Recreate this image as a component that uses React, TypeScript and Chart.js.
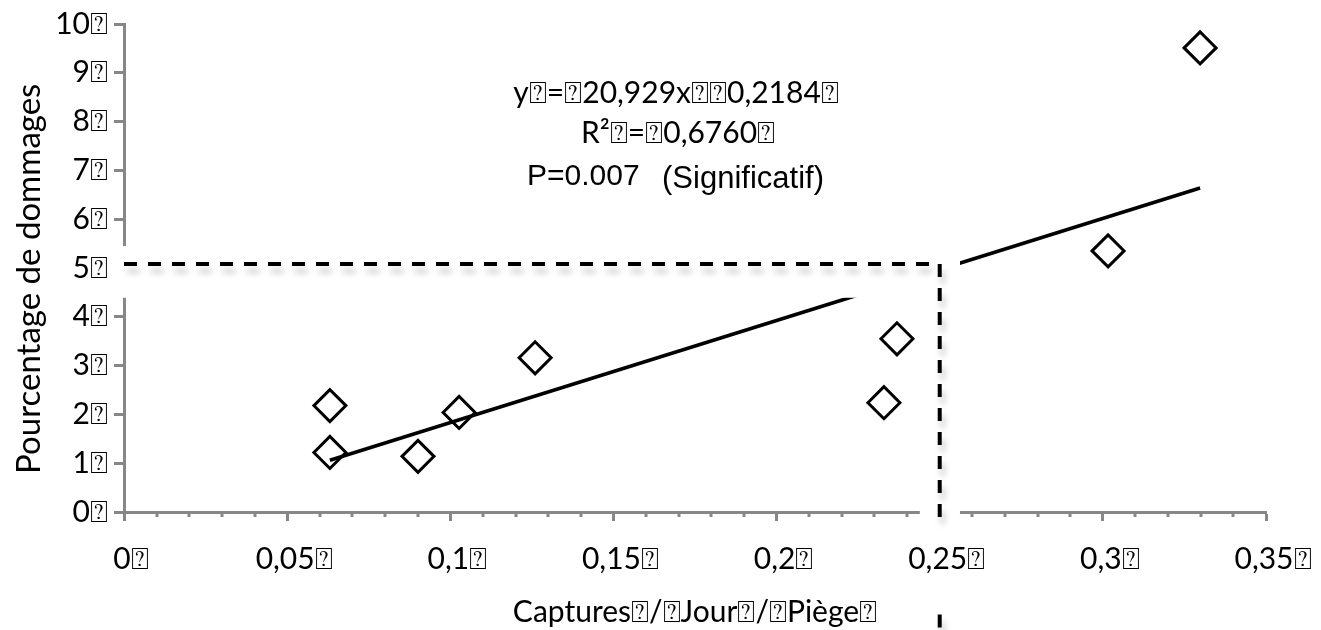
import React, { useEffect, useRef } from "react";
import { Chart, registerables } from "chart.js";

Chart.register(...registerables);

// Missing-glyph box that appears after every label in the reference
const BOX = "\u2370";

// Observations: captures / day / trap vs. damage percentage
const captureX = [0.0631, 0.0631, 0.0901, 0.1027, 0.126, 0.2329, 0.2369, 0.3016, 0.3298];
const damageY = [2.18, 1.22, 1.14, 2.04, 3.16, 2.24, 3.55, 5.35, 9.51];

// Drawn trend line end points
const trendX = [0.0631, 0.3298];
const trendY = [1.06, 6.64];

// Reference (threshold) dashed lines
const refX = 0.25;
const refY = 5.08;
const refVertBreaks = [-0.3, -2.1]; // gap where the x label sits
const refVertEnd = -2.45;

// Tick labels
const xTickLabels = ["0", "0,05", "0,1", "0,15", "0,2", "0,25", "0,3", "0,35"];
const yTickLabels = ["0", "1", "2", "3", "4", "5", "6", "7", "8", "9", "10"];

// Text
const yTitle = "Pourcentage de dommages";
const xTitle = `Captures${BOX}/${BOX}Jour${BOX}/${BOX}Piège${BOX}`;
const eqText = `y${BOX}=${BOX}20,929x${BOX}${BOX}0,2184${BOX}`;
const r2Text = `R²${BOX}=${BOX}0,6760${BOX}`;
const pText = "P=0.007";
const sigText = "(Significatif)";

const CAL = "Lato, 'Open Sans', sans-serif";
const ARIAL = "'Liberation Sans', Arial, sans-serif";
const AXIS_GRAY = "#878787";

export default function App() {
  const canvasRef = useRef<HTMLCanvasElement | null>(null);

  useEffect(() => {
    const canvas = canvasRef.current;
    if (!canvas) return;

    const overlay = {
      id: "overlay",
      beforeDatasetsDraw(chart: any) {
        // minor ticks on x axis every 0.01
        const ctx = chart.ctx;
        const xs = chart.scales.x;
        const yBase = chart.chartArea.bottom;
        ctx.save();
        ctx.strokeStyle = AXIS_GRAY;
        ctx.lineWidth = 3;
        for (let i = 1; i < 35; i++) {
          if (i % 5 === 0) continue;
          const px = Math.round(xs.getPixelForValue(i / 100));
          ctx.beginPath();
          ctx.moveTo(px, yBase);
          ctx.lineTo(px, yBase + 5);
          ctx.stroke();
        }
        ctx.restore();
      },
      beforeDatasetDraw(chart: any, args: any) {
        const ctx = chart.ctx;
        const xs = chart.scales.x;
        const ys = chart.scales.y;
        if (args.index === 1) {
          // white pasted band around the threshold corner
          ctx.save();
          ctx.fillStyle = "#ffffff";
          const x0 = xs.getPixelForValue(-0.0037);
          const x1 = xs.getPixelForValue(refX + 0.0062);
          const xv = xs.getPixelForValue(refX - 0.0061);
          const yTop = ys.getPixelForValue(refY + 0.37);
          const yBot = ys.getPixelForValue(refY - 0.69);
          const yLow = ys.getPixelForValue(-0.67);
          ctx.fillRect(x0, yTop, x1 - x0, yBot - yTop);
          ctx.fillRect(xv, yTop, x1 - xv, yLow - yTop);
          ctx.restore();
        }
        if (args.index <= 1) {
          ctx.save();
          ctx.shadowColor = "rgba(0,0,0,0.22)";
          ctx.shadowBlur = 6;
          ctx.shadowOffsetX = 3;
          ctx.shadowOffsetY = 7;
        }
      },
      afterDatasetDraw(chart: any, args: any) {
        if (args.index <= 1) chart.ctx.restore();
      },
      afterDraw(chart: any) {
        const ctx = chart.ctx;
        const xs = chart.scales.x;
        const ys = chart.scales.y;
        ctx.save();
        ctx.fillStyle = "#000";
        ctx.textBaseline = "middle";
        ctx.textAlign = "center";
        // y axis title
        ctx.save();
        ctx.translate(29, ys.getPixelForValue(4.78));
        ctx.rotate(-Math.PI / 2);
        ctx.font = `33px ${CAL}`;
        ctx.fillText(yTitle, 0, 0);
        ctx.restore();
        // annotations
        ctx.font = `30px ${CAL}`;
        ctx.fillText(eqText, xs.getPixelForValue(0.1692), ys.getPixelForValue(8.57));
        ctx.fillText(r2Text, xs.getPixelForValue(0.1698), ys.getPixelForValue(7.76));
        ctx.textAlign = "left";
        ctx.font = `30px ${ARIAL}`;
        ctx.fillText(pText, xs.getPixelForValue(0.1235), ys.getPixelForValue(6.88));
        ctx.font = `31px ${ARIAL}`;
        ctx.fillText(sigText, xs.getPixelForValue(0.1649), ys.getPixelForValue(6.82));
        ctx.restore();
      },
    };

    const chart = new Chart(canvas, {
      type: "scatter",
      data: {
        datasets: [
          {
            label: "seuil horizontal",
            data: [
              { x: 0, y: refY },
              { x: refX, y: refY },
            ],
            showLine: true,
            borderColor: "#000",
            borderWidth: 4,
            borderDash: [13, 11],
            pointRadius: 0,
            clip: false as any,
          },
          {
            label: "seuil vertical",
            data: [
              { x: refX, y: refY },
              { x: refX, y: refVertBreaks[0] },
              { x: refX, y: null as any },
              { x: refX, y: refVertBreaks[1] },
              { x: refX, y: refVertEnd },
            ],
            showLine: true,
            spanGaps: false,
            borderColor: "#000",
            borderWidth: 4,
            borderDash: [13, 11],
            pointRadius: 0,
            clip: false as any,
          },
          {
            label: "tendance",
            data: trendX.map((x, i) => ({ x, y: trendY[i] })),
            showLine: true,
            borderColor: "#000",
            borderWidth: 3.5,
            pointRadius: 0,
          },
          {
            label: "observations",
            data: captureX.map((x, i) => ({ x, y: damageY[i] })),
            pointStyle: "rectRot",
            pointRadius: 16,
            borderWidth: 3,
            borderColor: "#000",
            backgroundColor: "rgba(255,255,255,0)",
            clip: false as any,
          },
        ],
      },
      options: {
        animation: false,
        responsive: true,
        maintainAspectRatio: false,
        layout: { padding: { top: 22, right: 55, left: 0, bottom: 0 } },
        plugins: {
          legend: { display: false },
          tooltip: { enabled: false },
        },
        scales: {
          x: {
            type: "linear",
            min: 0,
            max: 0.35,
            afterFit(scale: any) {
              scale.height = 118;
              scale.paddingLeft = 0;
              scale.paddingRight = 0;
            },
            border: { display: true, color: AXIS_GRAY, width: 3 },
            grid: {
              drawOnChartArea: false,
              drawTicks: true,
              tickLength: 9,
              tickColor: AXIS_GRAY,
              tickWidth: 3,
            },
            ticks: {
              stepSize: 0.05,
              color: "#000",
              font: { family: CAL, size: 30 },
              padding: 20,
              labelOffset: 7,
              maxRotation: 0,
              autoSkip: false,
              callback: (v: any) => {
                const idx = Math.round(Number(v) / 0.05);
                return (xTickLabels[idx] ?? String(v)) + BOX;
              },
            },
            title: {
              display: true,
              text: xTitle,
              color: "#000",
              font: { family: CAL, size: 30 },
              padding: { top: 0, bottom: 0 },
            },
          },
          y: {
            type: "linear",
            min: 0,
            max: 10,
            afterFit(scale: any) {
              scale.width = 124;
            },
            border: { display: true, color: AXIS_GRAY, width: 3 },
            grid: {
              drawOnChartArea: false,
              drawTicks: true,
              tickLength: 10,
              tickColor: AXIS_GRAY,
              tickWidth: 3,
            },
            ticks: {
              stepSize: 1,
              color: "#000",
              font: { family: CAL, size: 30 },
              padding: 6,
              callback: (v: any) => {
                const idx = Math.round(Number(v));
                return (yTickLabels[idx] ?? String(v)) + BOX;
              },
            },
            title: { display: false },
          },
        },
      },
      plugins: [overlay],
    });

    return () => chart.destroy();
  }, []);

  return (
    <div
      style={{
        position: "absolute",
        left: 0,
        top: 0,
        width: 1321,
        height: 630,
        background: "#fff",
      }}
    >
      <canvas ref={canvasRef} style={{ width: "100%", height: "100%" }} />
    </div>
  );
}
